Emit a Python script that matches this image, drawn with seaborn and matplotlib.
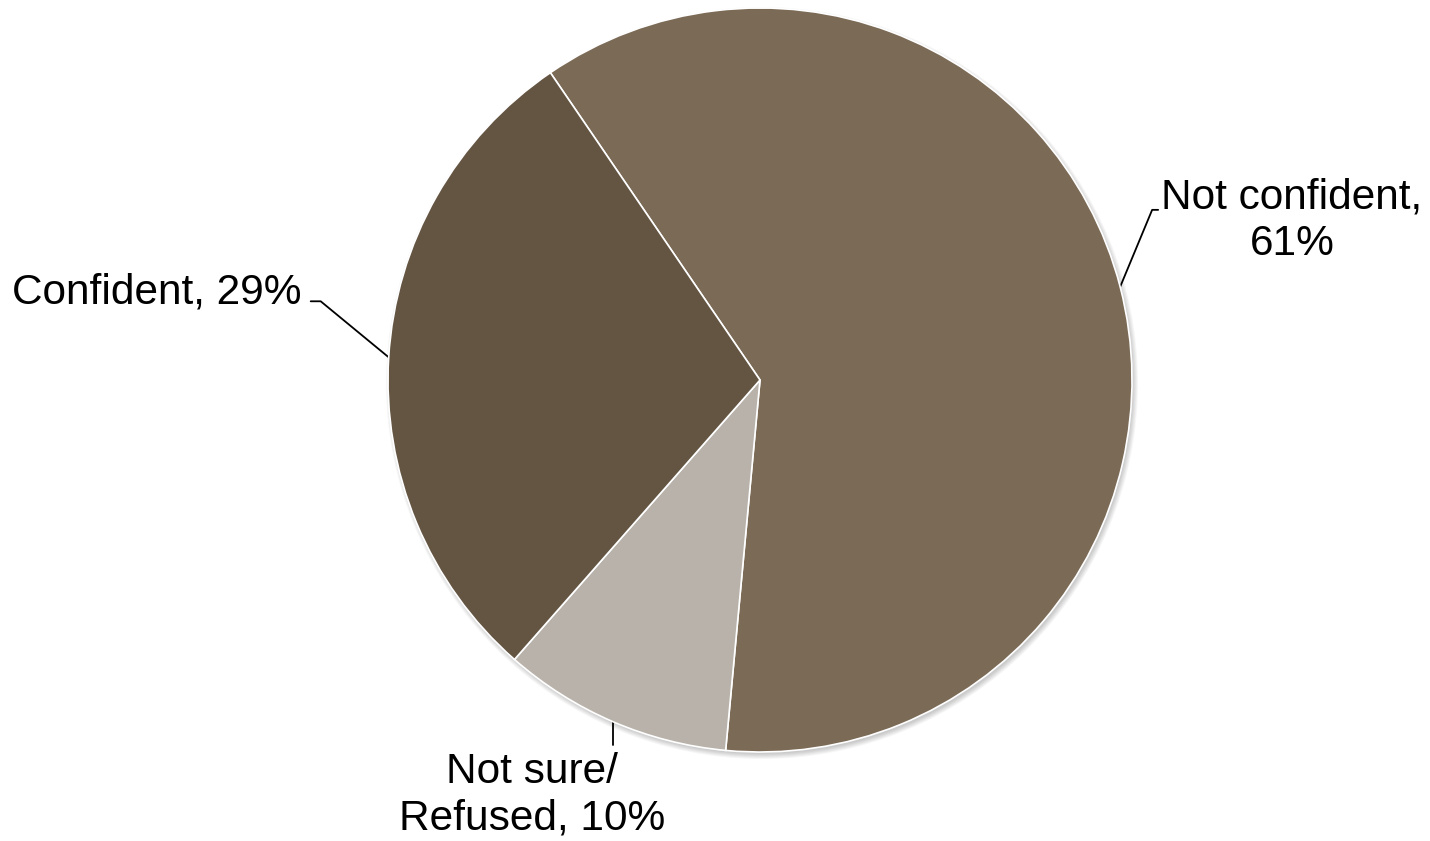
import numpy as np
import matplotlib
matplotlib.use("Agg")
import matplotlib.pyplot as plt
from matplotlib.patches import Circle
import seaborn as sns

# Survey responses
categories = ["Not confident", "Not sure/\nRefused", "Confident"]
shares = [61, 10, 29]
slice_colors = ["#7B6A56", "#B8B2AA", "#645543"]

sns.set_theme(style="white")
plt.rcParams["font.family"] = ["Liberation Sans", "DejaVu Sans"]

W, H = 1430, 841
fig = plt.figure(figsize=(W / 100, H / 100), dpi=100)
ax = fig.add_axes([0, 0, 1, 1])
ax.set_xlim(0, W)
ax.set_ylim(0, H)
ax.set_aspect("equal")
ax.axis("off")

cx, cy, r = 760, H - 380, 372

# soft drop shadow under the pie
for k in range(6):
    ax.add_patch(Circle((cx + 2, cy - 3), r + 4 - k, color="#000000",
                        alpha=0.035, lw=0, zorder=0.2))

wedges, _ = ax.pie(shares, colors=slice_colors, startangle=124.3,
                   counterclock=False, center=(cx, cy), radius=r,
                   frame=True,
                   wedgeprops=dict(edgecolor="white", linewidth=1.2))
ax.set_xlim(0, W)
ax.set_ylim(0, H)
ax.axis("off")


def anchor(w):
    mid = np.deg2rad((w.theta1 + w.theta2) / 2)
    return cx + r * np.cos(mid), cy + r * np.sin(mid)


fs = 30.5
lw = 1.3
# Not confident
x0, y0 = anchor(wedges[0])
ax.plot([x0, x0 + 32, x0 + 38], [y0, y0 + 77, y0 + 77], color="black",
        lw=lw, zorder=0.5)
ax.text(1292, H - 221, f"{categories[0]},\n{shares[0]}%", ha="center",
        va="center", multialignment="center", fontsize=fs, color="black")

# Confident
x2, y2 = anchor(wedges[2])
ax.plot([x2, x2 - 68, x2 - 78], [y2, y2 + 56, y2 + 56], color="black",
        lw=lw, zorder=0.5)
ax.text(302, H - 292, f"{categories[2]}, {shares[2]}%", ha="right",
        va="center", fontsize=fs, color="black")

# Not sure / Refused
x1, y1 = anchor(wedges[1])
ax.plot([x1, x1], [y1, H - 745], color="black", lw=lw, zorder=0.5)
ax.text(532, H - 795, f"{categories[1]}, {shares[1]}%", ha="center",
        va="center", multialignment="center", fontsize=fs, color="black")

fig.savefig("out.png", dpi=100, facecolor="white")
